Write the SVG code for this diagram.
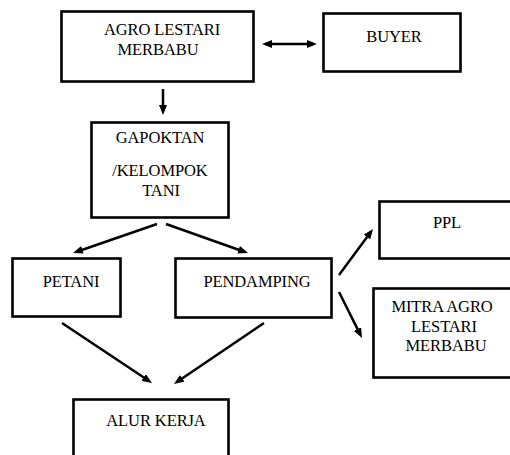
<svg xmlns="http://www.w3.org/2000/svg" width="510" height="455" viewBox="0 0 510 455">
<style>
.box{fill:#fff;stroke:#000;stroke-width:2.6}
.t{font-family:"Liberation Serif","Times New Roman",serif;font-size:16.5px;fill:#000;text-anchor:middle;letter-spacing:-0.1px}
.c{stroke:#000;stroke-width:2.5;fill:none}
</style>
<defs>
<marker id="ah" markerUnits="userSpaceOnUse" markerWidth="10" markerHeight="8" refX="6" refY="4" orient="auto-start-reverse">
<path d="M0,0 L10,4 L0,8 z" fill="#000"/>
</marker>
</defs>
<rect width="510" height="455" fill="#fff"/>
<g id="agro">
<rect class="box" x="61.5" y="11.5" width="192" height="70"/>
<text class="t" x="162" y="35">AGRO LESTARI</text>
<text class="t" x="158" y="55">MERBABU</text>
</g>
<g id="buyer">
<rect class="box" x="323.5" y="13.5" width="137" height="58"/>
<text class="t" x="394" y="42">BUYER</text>
</g>
<g id="gapoktan">
<rect class="box" x="91.5" y="122.5" width="137" height="95"/>
<text class="t" x="160" y="143">GAPOKTAN</text>
<text class="t" x="160" y="176">/KELOMPOK</text>
<text class="t" x="161" y="196">TANI</text>
</g>
<g id="petani">
<rect class="box" x="12.5" y="258.5" width="108" height="58"/>
<text class="t" x="71" y="287">PETANI</text>
</g>
<g id="pendamping">
<rect class="box" x="175.5" y="258.5" width="156" height="59"/>
<text class="t" x="257" y="287">PENDAMPING</text>
</g>
<g id="ppl">
<rect class="box" x="379.5" y="201.5" width="140" height="57"/>
<text class="t" x="447" y="228">PPL</text>
</g>
<g id="mitra">
<rect class="box" x="373.5" y="288.5" width="145" height="89"/>
<text class="t" x="442" y="312">MITRA AGRO</text>
<text class="t" x="444" y="332">LESTARI</text>
<text class="t" x="446" y="351">MERBABU</text>
</g>
<g id="alur">
<rect class="box" x="73.5" y="399.5" width="155" height="70"/>
<text class="t" x="156" y="426">ALUR KERJA</text>
</g>
<g id="connectors">
<line class="c" x1="266" y1="44" x2="313" y2="44" marker-start="url(#ah)" marker-end="url(#ah)"/>
<line class="c" x1="163" y1="89" x2="163" y2="111" marker-end="url(#ah)"/>
<line class="c" x1="157" y1="224" x2="76.8" y2="251.7" marker-end="url(#ah)"/>
<line class="c" x1="166" y1="224" x2="244.2" y2="251.7" marker-end="url(#ah)"/>
<line class="c" x1="339" y1="275" x2="370.6" y2="232.2" marker-end="url(#ah)"/>
<line class="c" x1="339" y1="292" x2="360.2" y2="334.4" marker-end="url(#ah)"/>
<line class="c" x1="62" y1="323" x2="148.7" y2="380.8" marker-end="url(#ah)"/>
<line class="c" x1="264" y1="323" x2="177.3" y2="381.8" marker-end="url(#ah)"/>
</g>
</svg>
